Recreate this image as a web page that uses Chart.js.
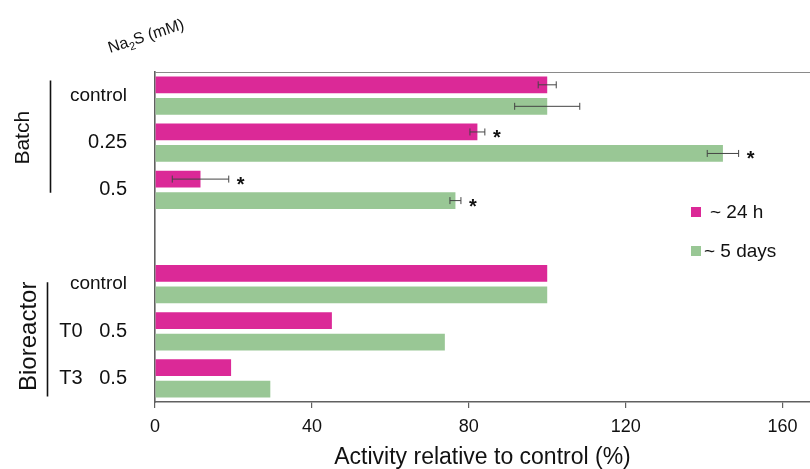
<!DOCTYPE html>
<html>
<head>
<meta charset="utf-8">
<script src="https://cdn.jsdelivr.net/npm/chart.js@4.4.1/dist/chart.umd.min.js"></script>
<style>
  html, body { margin: 0; padding: 0; background: #fff; }
  #wrap { width: 810px; height: 469px; }
</style>
</head>
<body>
<div id="wrap"><canvas id="c" width="810" height="469"></canvas></div>
<script>
// ---- Data ----
const yLabels = ['control', '0.25', '0.5', '', 'control', 'T0   0.5', 'T3   0.5'];
const hourValues = [100, 82.2, 11.6, null, 100, 45.1, 19.4];
const dayValues  = [100, 144.8, 76.6, null, 100, 73.9, 29.4];
const hourErr = [2.3, 1.9, 7.2, null, null, null, null];
const dayErr  = [8.3, 4.0, 1.4, null, null, null, null];
const hourSig = [false, true, true, false, false, false, false];
const daySig  = [false, true, true, false, false, false, false];
const xTicks = [0, 40, 80, 120, 160];
const seriesNames = ['~ 24 h', '~ 5 days'];
const groupNames = ['Batch', 'Bioreactor'];

const MAGENTA = 'rgb(219,41,151)';
const GREEN = 'rgb(153,199,149)';
const FONT = "'Liberation Sans', Arial, sans-serif";

const extras = {
  id: 'extras',
  afterDatasetsDraw(chart) {
    const ctx = chart.ctx;
    const xs = chart.scales.x, ys = chart.scales.y;
    const area = chart.chartArea;
    ctx.save();
    // top border line
    ctx.strokeStyle = '#8a8a8a';
    ctx.lineWidth = 1.2;
    ctx.beginPath();
    ctx.moveTo(area.left, area.top + 0.5);
    ctx.lineTo(chart.width, area.top + 0.5);
    ctx.stroke();

    // error bars and asterisks
    const sets = [
      {meta: chart.getDatasetMeta(0), vals: hourValues, err: hourErr, sig: hourSig},
      {meta: chart.getDatasetMeta(1), vals: dayValues, err: dayErr, sig: daySig}
    ];
    sets.forEach(s => {
      s.meta.data.forEach((bar, i) => {
        const v = s.vals[i];
        if (v == null) return;
        const cy = bar.y;
        let endX = xs.getPixelForValue(v);
        if (s.err[i] != null) {
          const x1 = xs.getPixelForValue(v - s.err[i]);
          const x2 = xs.getPixelForValue(v + s.err[i]);
          ctx.strokeStyle = '#444';
          ctx.lineWidth = 1;
          ctx.beginPath();
          ctx.moveTo(x1, cy); ctx.lineTo(x2, cy);
          ctx.moveTo(x1, cy - 3.5); ctx.lineTo(x1, cy + 3.5);
          ctx.moveTo(x2, cy - 3.5); ctx.lineTo(x2, cy + 3.5);
          ctx.stroke();
          endX = Math.max(endX, x2);
        }
        if (s.sig[i]) {
          ctx.fillStyle = '#111';
          ctx.font = 'bold 20px ' + FONT;
          ctx.textAlign = 'center';
          ctx.textBaseline = 'alphabetic';
          ctx.fillText('*', endX + 12, cy + 12);
        }
      });
    });

    // group brackets
    ctx.strokeStyle = '#111';
    ctx.lineWidth = 1.6;
    ctx.beginPath();
    ctx.moveTo(50.5, ys.getPixelForValue(0) - 15);
    ctx.lineTo(50.5, ys.getPixelForValue(2) + 3);
    ctx.moveTo(47.5, ys.getPixelForValue(4) - 2);
    ctx.lineTo(47.5, ys.getPixelForValue(6) + 18);
    ctx.stroke();

    // group names (rotated)
    ctx.fillStyle = '#111';
    ctx.textAlign = 'center';
    ctx.textBaseline = 'alphabetic';
    ctx.save();
    ctx.translate(29, ys.getPixelForValue(1) - 5);
    ctx.rotate(-Math.PI / 2);
    ctx.font = '21px ' + FONT;
    ctx.fillText(groupNames[0], 0, 0);
    ctx.restore();
    ctx.save();
    ctx.translate(36, ys.getPixelForValue(5) + 5);
    ctx.rotate(-Math.PI / 2);
    ctx.font = '24px ' + FONT;
    ctx.fillText(groupNames[1], 0, 0);
    ctx.restore();

    // Na2S (mM) title
    ctx.save();
    ctx.translate(110, 53);
    ctx.rotate(-18 * Math.PI / 180);
    ctx.textAlign = 'left';
    ctx.font = '16px ' + FONT;
    let x = 0;
    ctx.fillText('Na', x, 0); x += ctx.measureText('Na').width;
    ctx.font = '11px ' + FONT;
    ctx.fillText('2', x, 4); x += ctx.measureText('2').width;
    ctx.font = '16px ' + FONT;
    ctx.fillText('S (mM)', x, 0);
    ctx.restore();

    // legend
    ctx.font = '19px ' + FONT;
    ctx.textAlign = 'left';
    ctx.textBaseline = 'middle';
    ctx.fillStyle = MAGENTA;
    ctx.fillRect(691, 207, 10, 10);
    ctx.fillStyle = GREEN;
    ctx.fillRect(691, 246, 10, 10);
    ctx.fillStyle = '#111';
    ctx.fillText(seriesNames[0], 710, 213);
    ctx.fillText(seriesNames[1], 704, 252);
    ctx.restore();
  }
};

new Chart(document.getElementById('c'), {
  type: 'bar',
  data: {
    labels: yLabels,
    datasets: [
      {label: seriesNames[0], data: hourValues, backgroundColor: MAGENTA,
       categoryPercentage: 0.912, barPercentage: 0.777},
      {label: seriesNames[1], data: dayValues, backgroundColor: GREEN,
       categoryPercentage: 0.912, barPercentage: 0.777}
    ]
  },
  options: {
    indexAxis: 'y',
    responsive: false,
    animation: false,
    layout: {padding: {top: 72, left: 0, right: 0, bottom: 0}},
    plugins: {legend: {display: false}, tooltip: {enabled: false}},
    scales: {
      x: {
        min: 0, max: 167,
        afterBuildTicks: s => { s.ticks = xTicks.map(v => ({value: v})); },
        afterFit: s => { s.height = 67; },
        grid: {display: true, drawOnChartArea: false, tickLength: 6, color: '#606060', lineWidth: 1.2},
        border: {display: true, color: '#606060', width: 1.6},
        ticks: {color: '#111', font: {family: FONT, size: 18}, padding: 8, maxRotation: 0},
        title: {display: true, text: 'Activity relative to control (%)', color: '#111',
                font: {family: FONT, size: 23, lineHeight: 1.0}, padding: {top: 0, bottom: 0}}
      },
      y: {
        afterFit: s => { s.width = 155; },
        grid: {display: false},
        border: {display: true, color: '#606060', width: 1.6},
        ticks: {
          autoSkip: false, color: '#111', padding: 20,
          font: ctx => ({family: FONT, size: yLabels[ctx.index] === 'control' ? 19 : 20})
        }
      }
    }
  },
  plugins: [extras]
});
</script>
</body>
</html>
